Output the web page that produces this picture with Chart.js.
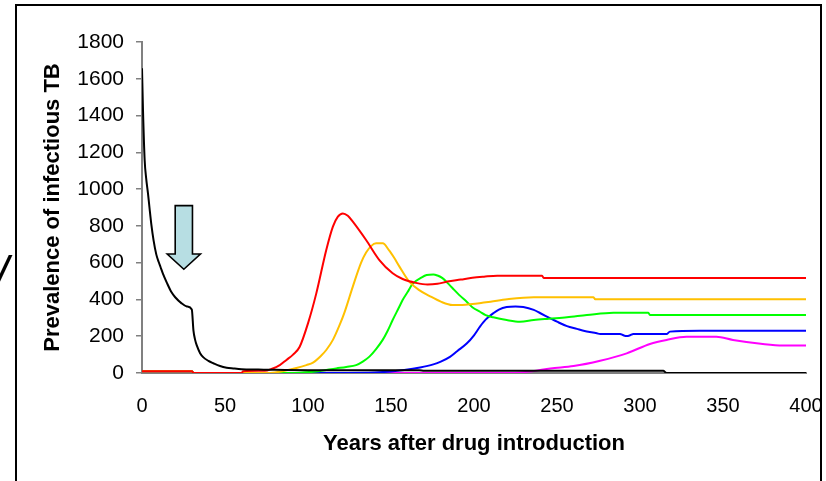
<!DOCTYPE html>
<html>
<head>
<meta charset="utf-8">
<script src="https://cdn.jsdelivr.net/npm/chart.js@4"></script>
<style>
  html, body { margin: 0; padding: 0; background: #fff; }
  #wrap { width: 826px; height: 481px; position: relative; }
</style>
</head>
<body>
<div id="wrap"><canvas id="c" width="826" height="481"></canvas></div>
<script>
// ---- data (years after drug introduction -> prevalence) ----
const blackYears = [0,0.6,1.6,2.5,3.6,4.5,5.6,7,8.6,10,11.2,12.6,15,17.7,20,23.7,27,30,31,32,33,35,37,40,43,47,51,55,60,70,80,100,167,170,314,316,400];
const blackVals  = [1657,1430,1158,1060,977,900,810,720,645,605,575,540,490,440,412,380,362,345,230,180,150,108,85,66,53,38,29,25,21,19,17,15,15,12,12,0,0];

const redYears = [0,30,31,60,61,74,78,83,87,91,95,100,105,111,115,118,121,124,127,135,143,151,157,165,172,178,184,192,199,206,214,241,242,400];
const redVals  = [10,10,0,0,10,12,22,43,71,100,143,270,433,669,796,850,868,855,823,723,614,542,511,490,481,485,497,508,518,524,529,529,516,516];

const yellowYears = [0,30,31,75,80,86,93,99,103,108,111,115,119,122,127,132,135,138,141,145,149,152,155,161,167,173,180,187,193,199,205,210,220,236,272,273,400];
const yellowVals  = [10,10,0,0,3,12,27,43,56,95,125,180,260,330,470,600,655,690,705,705,665,625,580,497,451,420,388,370,370,375,382,388,401,412,412,401,401];

const greenYears = [0,30,31,80,95,105,117,123,129,133,137,141,145,148,151,155,157,160,163,168.5,171.5,175.5,178,181,184,187,191,195.6,199,203.6,207,211.6,219.7,227.7,236,245,256,268,284,305,306,400];
const greenVals  = [10,10,0,0,2,8,25,33,43,62,89,130,180,230,288,360,397,440,485,520,533,536,530,516,490,462,425,388,358,333,315,303,288,279,288,295,303,315,328,328,315,315];

const blueYears = [0,30,31,100,140,150,158,167.5,175.5,180,185.5,190,195.6,200,203.6,207,211.6,215,219.7,225,229.7,236,240,246,250,256,262,266,274,276,288,290,292,294,296,316,318,336,400];
const blueVals  = [10,10,0,0,3,8,16,30,47,62,88,120,160,205,252,290,325,345,359,362,359,343,325,297,279,255,240,230,216,212,212,205,201,205,212,212,225,230,230];

const magentaYears = [0,30,31,222,235,246,260,276,292,306,316,328,346,356,374,386,400];
const magentaVals  = [10,10,0,0,10,25,38,67,107,158,180,197,197,180,158,150,150];

const xTickStep = 50, xMax = 400;
const yTickStep = 200, yMax = 1800;

const yTitle = 'Prevalence of infectious TB';
const xTitle = 'Years after drug introduction';

// arrow annotation (in data units)
const arrowYearCenter = 25.2, arrowShaftHalf = 5.2, arrowHeadHalf = 10;
const arrowTop = 910, arrowHeadBase = 647, arrowTip = 564;

function pts(xs, ys) { return xs.map((x, i) => ({ x: x, y: ys[i] })); }

const FONT = "'Liberation Sans', Arial, sans-serif";
Chart.defaults.font.family = FONT;
Chart.defaults.color = '#000';

const frameAndDeco = {
  id: 'frameAndDeco',
  afterDatasetsDraw(chart) {
    const ctx = chart.ctx, xs = chart.scales.x, ys = chart.scales.y;
    const cx = xs.getPixelForValue(arrowYearCenter);
    const sl = xs.getPixelForValue(arrowYearCenter - arrowShaftHalf);
    const sr = xs.getPixelForValue(arrowYearCenter + arrowShaftHalf);
    const hl = xs.getPixelForValue(arrowYearCenter - arrowHeadHalf);
    const hr = xs.getPixelForValue(arrowYearCenter + arrowHeadHalf);
    const yt = ys.getPixelForValue(arrowTop);
    const yb = ys.getPixelForValue(arrowHeadBase);
    const yp = ys.getPixelForValue(arrowTip);
    ctx.save();
    ctx.beginPath();
    ctx.moveTo(sl, yt); ctx.lineTo(sr, yt); ctx.lineTo(sr, yb); ctx.lineTo(hr, yb);
    ctx.lineTo(cx, yp); ctx.lineTo(hl, yb); ctx.lineTo(sl, yb); ctx.closePath();
    ctx.fillStyle = '#B7DEE3';
    ctx.fill();
    ctx.lineWidth = 1.6;
    ctx.strokeStyle = '#000';
    ctx.lineJoin = 'miter';
    ctx.stroke();
    ctx.restore();
  },
  afterDraw(chart) {
    const ctx = chart.ctx;
    ctx.save();
    ctx.beginPath(); ctx.rect(0, 0, 15, 481); ctx.clip();
    ctx.fillStyle = '#000';
    ctx.font = "italic 48px " + FONT;
    ctx.textBaseline = 'alphabetic';
    ctx.fillText('/', -5, 290);
    ctx.restore();
    ctx.save();
    ctx.strokeStyle = '#000';
    ctx.lineWidth = 2;
    ctx.beginPath();
    ctx.moveTo(16, 481); ctx.lineTo(16, 5); ctx.lineTo(821, 5); ctx.lineTo(821, 481);
    ctx.stroke();
    ctx.restore();
  }
};

function ds(label, xs, ys, color) {
  return { label, data: pts(xs, ys), borderColor: color, backgroundColor: color,
           borderWidth: 2, pointRadius: 0, fill: false, cubicInterpolationMode: 'monotone' };
}

new Chart(document.getElementById('c'), {
  type: 'line',
  data: {
    datasets: [
      ds('black', blackYears, blackVals, '#000000'),
      ds('red', redYears, redVals, '#FF0000'),
      ds('yellow', yellowYears, yellowVals, '#FFC000'),
      ds('green', greenYears, greenVals, '#00FF00'),
      ds('blue', blueYears, blueVals, '#0000FF'),
      ds('magenta', magentaYears, magentaVals, '#FF00FF')
    ]
  },
  options: {
    responsive: false,
    animation: false,
    layout: { padding: { top: 42, right: 20, left: 0, bottom: 0 } },
    plugins: { legend: { display: false }, tooltip: { enabled: false } },
    scales: {
      x: {
        type: 'linear', min: 0, max: xMax,
        ticks: { stepSize: xTickStep, color: '#000', font: { size: 20 }, padding: 21, maxRotation: 0,
                 callback: v => String(v) },
        grid: { display: false, drawTicks: false },
        border: { display: true, color: '#808080', width: 2 },
        title: { display: true, text: xTitle, color: '#000', font: { size: 22, weight: 'bold' }, padding: { top: 0, bottom: 24 } },
        afterFit: s => { s.height = 108; s.paddingRight = 0; }
      },
      y: {
        min: 0, max: yMax,
        ticks: { stepSize: yTickStep, color: '#000', font: { size: 21 }, padding: 12,
                 callback: v => String(v) },
        grid: { drawOnChartArea: false, drawTicks: true, tickLength: 6, color: '#808080', lineWidth: 1.5 },
        border: { display: true, color: '#808080', width: 2 },
        title: { display: true, text: yTitle, color: '#000', font: { size: 22, weight: 'bold' }, padding: { top: 40, bottom: 0 } },
        afterFit: s => { s.width = 142; }
      }
    }
  },
  plugins: [frameAndDeco]
});
</script>
</body>
</html>
